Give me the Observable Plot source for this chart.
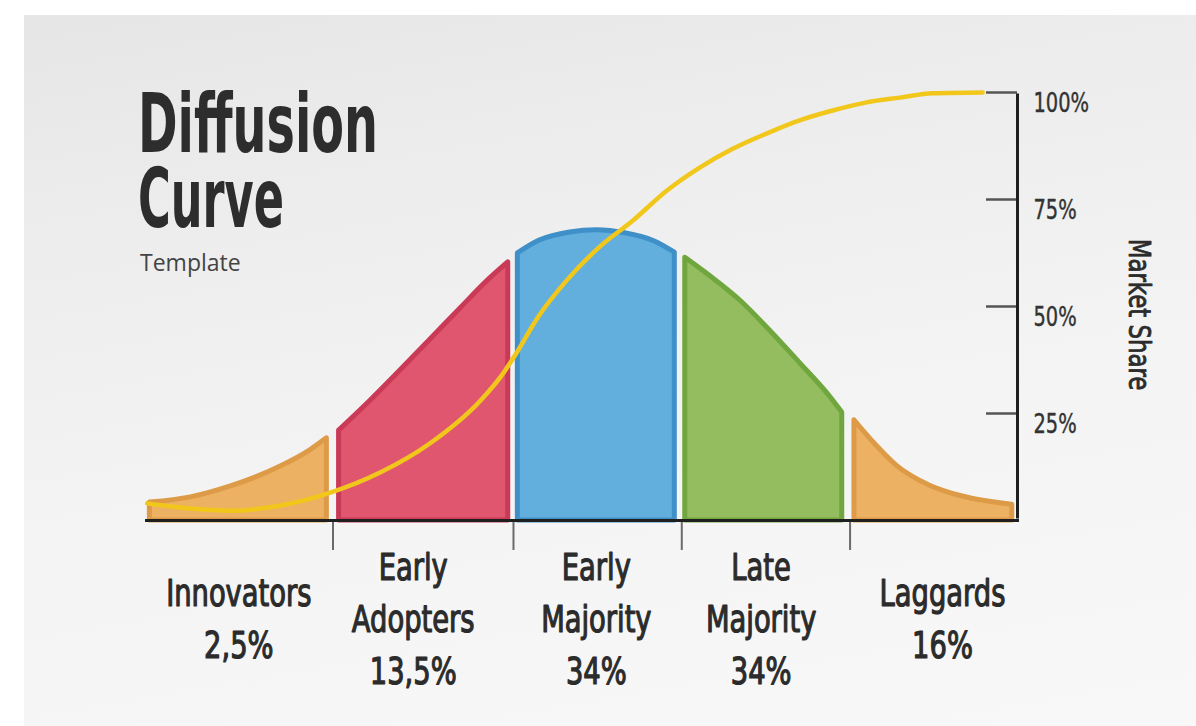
<!DOCTYPE html>
<html>
<head>
<meta charset="utf-8">
<script src="https://cdn.jsdelivr.net/npm/d3@7"></script>
<script src="https://cdn.jsdelivr.net/npm/@observablehq/plot@0.6"></script>
<style>
  html, body { margin: 0; padding: 0; background: #ffffff; }
  #wrap { position: relative; width: 1196px; height: 726px; overflow: hidden; background: #ffffff; }
  #panel { position: absolute; left: 24px; top: 15px; right: 0; bottom: 0;
    background: linear-gradient(170deg, #e6e6e6 0%, #eeeeee 30%, #f4f4f4 60%, #f8f8f8 100%); }
  #chart { position: absolute; left: 0; top: 0; }
  #title { position: absolute; left: 0; top: 0; }
</style>
</head>
<body>
<div id="wrap">
  <div id="panel"></div>
  <svg id="title" width="600" height="300"></svg>
  <div id="chart"></div>
</div>
<script>
// ---------- data ----------
const segments = ["Innovators", "Early Adopters", "Early Majority", "Late Majority", "Laggards"];
const shares = ["2,5%", "13,5%", "34%", "34%", "16%"];
const labelNames = ["Innovators", "Early\nAdopters", "Early\nMajority", "Late\nMajority", "Laggards"];
const labelPositions = [10.7, 30.7, 51.7, 70.6, 91.4];      // adoption-time position of each label
const boundaries = [21.5, 42.2, 61.5, 80.8];                 // segment boundaries (time)
const yTicks = [25, 50, 75, 100];                            // market share ticks (%)

// bell curve (adoption frequency) per segment: [time, height]
const innovatorsCurve    = [[0.5, 4.2], [5.2, 5.4], [9.7, 7.9], [15.5, 12.6], [18.9, 16.4], [20.8, 19.2]];
const earlyAdoptersCurve = [[22.2, 21.0], [25.8, 28.0], [29.2, 35.0], [32.6, 42.1], [36.1, 49.5], [39.5, 56.5], [41.6, 60.3]];
const earlyMajorityCurve = [[42.7, 62.4], [45.2, 65.4], [48.7, 67.3], [51.8, 67.8], [55.0, 67.1], [58.4, 65.2], [60.7, 62.6]];
const lateMajorityCurve  = [[61.9, 61.4], [64.7, 57.2], [68.2, 51.4], [71.6, 44.4], [75.0, 36.9], [78.4, 29.2], [79.9, 25.2]];
const laggardsCurve      = [[81.3, 23.4], [83.6, 18.0], [86.1, 12.9], [89.9, 8.2], [93.7, 5.6], [99.4, 3.7]];

// cumulative market share (yellow S-curve)
const adoptionTime  = [0.2, 5.2, 9.7, 15.5, 21.2, 26.9, 32.6, 38.4, 40.7, 42.5, 45.0, 48.3, 52.1, 55.9, 59.8, 63.6, 67.4, 71.2, 75.0, 78.8, 82.7, 86.5, 90.3, 96.0];
const adoptionShare = [4.0, 2.8, 2.3, 3.5, 6.5, 11.2, 18.0, 28.0, 33.5, 39.0, 47.5, 56.1, 64.0, 70.1, 77.1, 82.5, 86.9, 90.4, 93.5, 95.8, 97.7, 98.8, 99.8, 100];

// ---------- styles ----------
const fills   = {"Innovators": "#EDB163", "Early Adopters": "#E0566F", "Early Majority": "#62AEDC", "Late Majority": "#94BD5F", "Laggards": "#EDB163"};
const strokes = {"Innovators": "#DE9B47", "Early Adopters": "#CA3A56", "Early Majority": "#3F90C8", "Late Majority": "#70A63E", "Laggards": "#DE9B47"};
const condensed = "'DejaVu Sans Condensed', 'Liberation Sans Narrow', 'DejaVu Sans', sans-serif";
const ink = "#2b2b2b";

// ---------- tables ----------
const curves = [innovatorsCurve, earlyAdoptersCurve, earlyMajorityCurve, lateMajorityCurve, laggardsCurve];
const bell = segments.flatMap((s, i) => curves[i].map(([t, h]) => ({segment: s, t, h})));
const adoption = adoptionTime.map((t, i) => ({t, v: adoptionShare[i]}));
const labels = segments.map((s, i) => ({t: labelPositions[i], text: labelNames[i] + "\n" + shares[i]}));

const chart = Plot.plot({
  width: 1196,
  height: 726,
  marginLeft: 145,
  marginRight: 179,
  marginTop: 92,
  marginBottom: 206,
  x: {domain: [0, 100], axis: null},
  y: {domain: [0, 100], axis: null},
  color: {type: "identity"},
  style: {background: "transparent", overflow: "visible", fontFamily: condensed},
  marks: [
    Plot.areaY(bell, {
      x: "t", y: "h", z: "segment",
      fill: d => fills[d.segment], stroke: d => strokes[d.segment],
      strokeWidth: 5, strokeLinejoin: "round", curve: "monotone-x"
    }),
    Plot.line(adoption, {x: "t", y: "v", stroke: "#F1C71B", strokeWidth: 4.5, curve: "monotone-x"}),
    Plot.ruleY([0], {stroke: "#1f1f1f", strokeWidth: 3, insetRight: -2}),
    Plot.ruleX(boundaries, {y1: 0, y2: 0, insetTop: 2, insetBottom: -30, stroke: "#6a6a6a", strokeWidth: 2}),
    Plot.ruleY(yTicks, {x1: 100, x2: 100, insetLeft: -31, stroke: "#555555", strokeWidth: 2.5}),
    Plot.ruleX([100], {y1: 0, y2: 100, stroke: "#1f1f1f", strokeWidth: 3, insetTop: -1.5, insetBottom: -1.5}),
    Plot.text(yTicks, {
      y: d => d, frameAnchor: "right", dx: 16, textAnchor: "start", lineAnchor: "top",
      text: d => `${d}%`, fontSize: 27, fill: "#333333", stroke: "#333333", strokeWidth: 0.4
    }),
    Plot.text(labels, {
      x: "t", frameAnchor: "bottom", dy: 95, text: "text", lineAnchor: "middle",
      fontSize: 38, lineHeight: 1.37, fill: ink, stroke: ink, strokeWidth: 1.2
    }),
    Plot.text(["Market Share"], {
      frameAnchor: "right", textAnchor: "middle", rotate: 90, dx: 121, dy: 8, text: d => d,
      fontSize: 31, fill: ink, stroke: ink, strokeWidth: 0.8
    })
  ]
});

document.getElementById("chart").appendChild(chart);

function condenseEl(el, f) {
  const w = el.getComputedTextLength();
  if (w > 0) {
    el.setAttribute("textLength", (w * f).toFixed(1));
    el.setAttribute("lengthAdjust", "spacingAndGlyphs");
  }
}
chart.querySelectorAll("text").forEach(t => {
  const spans = t.querySelectorAll("tspan");
  if (spans.length) spans.forEach(s => condenseEl(s, 0.8));
  else condenseEl(t, t.textContent === "Market Share" ? 0.82 : 0.8);
});

// ---------- title ----------
const title = d3.select("#title");
const titleLines = ["Diffusion", "Curve"];
const titleWidths = [240, 146];
const tt = title.append("text")
  .attr("font-family", condensed)
  .attr("font-weight", "bold")
  .attr("font-size", 82)
  .attr("fill", "#2d2d2d");
tt.selectAll("tspan").data(titleLines).join("tspan")
  .attr("x", 138)
  .attr("y", (d, i) => 152 + i * 75)
  .attr("textLength", (d, i) => titleWidths[i])
  .attr("lengthAdjust", "spacingAndGlyphs")
  .text(d => d);
title.append("text")
  .attr("x", 140).attr("y", 271)
  .attr("font-family", "'Open Sans', 'Noto Sans', sans-serif")
  .attr("font-size", 23)
  .attr("fill", "#444444")
  .text("Template");
</script>
</body>
</html>
